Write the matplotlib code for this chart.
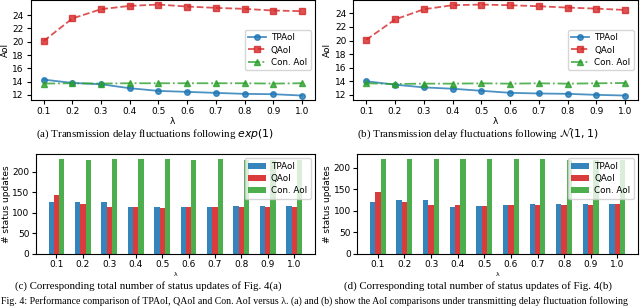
import numpy as np
import matplotlib
matplotlib.use("Agg")
from matplotlib import pyplot as plt

LAMBDAS = ["0.1", "0.2", "0.3", "0.4", "0.5", "0.6", "0.7", "0.8", "0.9", "1.0"]
lam = [0.1, 0.2, 0.3, 0.4, 0.5, 0.6, 0.7, 0.8, 0.9, 1.0]

# (a) exp(1) delay
tp_a = [14.3, 13.8, 13.6, 13.0, 12.6, 12.45, 12.3, 12.15, 12.1, 11.9]
q_a = [20.1, 23.5, 24.9, 25.4, 25.6, 25.3, 25.1, 24.95, 24.7, 24.6]
con_a = [13.7, 13.75, 13.7, 13.75, 13.75, 13.75, 13.75, 13.75, 13.7, 13.75]

# (b) N(1,1) delay
tp_b = [14.0, 13.5, 13.1, 12.9, 12.6, 12.3, 12.2, 12.15, 12.0, 11.9]
q_b = [20.1, 23.1, 24.6, 25.2, 25.3, 25.2, 25.05, 24.85, 24.7, 24.5]
con_b = [13.7, 13.6, 13.65, 13.65, 13.7, 13.65, 13.7, 13.65, 13.7, 13.75]

# (c) number of status updates for (a)
n_tp_c = [125, 127, 125, 113, 113, 115, 115, 116, 116, 116]
n_q_c = [143, 121, 114, 113, 112, 113, 114, 114, 115, 115]
n_con_c = [230, 229, 231, 231, 230, 229, 230, 229, 229, 229]

# (d) number of status updates for (b)
n_tp_d = [120, 125, 125, 109, 112, 113, 115, 115, 115, 116]
n_q_d = [143, 120, 114, 113, 112, 113, 114, 114, 114, 115]
n_con_d = [221, 221, 221, 221, 220, 220, 220, 219, 218, 218]

BLUE = "#1f77b4"
RED = "#d62728"
GREEN = "#2ca02c"

plt.rcParams['font.family'] = ['DejaVu Sans']
fig = plt.figure(figsize=(6.4, 3.07), dpi=100)

TICK_FS = 6.5
SERIF = ['Liberation Serif', 'DejaVu Serif']


def line_panel(ax, tp, q, con):
    ax.plot(lam, tp, color=BLUE, ls='-', marker='o', ms=4, lw=1.3, alpha=0.8, label="TPAoI")
    ax.plot(lam, q, color=RED, ls='--', marker='s', ms=4, lw=1.3, alpha=0.8, label="QAoI")
    ax.plot(lam, con, color=GREEN, ls='-.', marker='^', ms=4.5, lw=1.3, alpha=0.8, label="Con. AoI")
    ax.set_xticks(lam)
    ax.set_xticklabels(LAMBDAS)
    ax.set_yticks([12, 14, 16, 18, 20, 22, 24])
    ax.tick_params(labelsize=TICK_FS, length=3, pad=2)
    ax.set_xlabel("λ", fontsize=TICK_FS, labelpad=1)
    ax.set_ylabel("AoI", fontsize=TICK_FS, labelpad=2)
    ax.legend(loc='center right', fontsize=6.3, handlelength=2.0, borderpad=0.4,
              labelspacing=0.35, handletextpad=0.6)


def bar_panel(ax, tp, q, con):
    x = np.arange(len(LAMBDAS))
    w = 0.2
    ax.bar(x - w, tp, w, color=BLUE, alpha=0.9, label="TPAoI")
    ax.bar(x, q, w, color=RED, alpha=0.9, label="QAoI")
    ax.bar(x + w, con, w, color=GREEN, alpha=0.85, label="Con. AoI")
    ax.set_xticks(x)
    ax.set_xticklabels(LAMBDAS)
    ax.set_yticks([0, 50, 100, 150, 200])
    ax.tick_params(labelsize=TICK_FS, length=3, pad=1.5)
    ax.set_xlabel("λ", fontsize=4.5, labelpad=2)
    ax.set_ylabel("# status updates", fontsize=TICK_FS, labelpad=1)
    ax.legend(loc='upper right', fontsize=6.3, handlelength=2.0, borderpad=0.4,
              labelspacing=0.35, handletextpad=0.6)


ax_a = fig.add_axes([0.048, 0.674, 0.444, 0.326])
ax_b = fig.add_axes([0.552, 0.674, 0.445, 0.326])
ax_c = fig.add_axes([0.056, 0.173, 0.436, 0.325])
ax_d = fig.add_axes([0.558, 0.173, 0.439, 0.325])

line_panel(ax_a, tp_a, q_a, con_a)
line_panel(ax_b, tp_b, q_b, con_b)
bar_panel(ax_c, n_tp_c, n_q_c, n_con_c)
bar_panel(ax_d, n_tp_d, n_q_d, n_con_d)

cap_fs = 7.8
fig.text(155 / 640, 1 - 134 / 307, r"(a) Transmission delay fluctuations following $exp(1)$",
         ha='center', va='center', fontsize=cap_fs, family=SERIF)
fig.text(478 / 640, 1 - 134 / 307, r"(b) Transmission delay fluctuations following $\mathcal{N}(1,1)$",
         ha='center', va='center', fontsize=cap_fs, family=SERIF)
fig.text(148 / 640, 1 - 286 / 307, "(c) Corresponding total number of status updates of Fig. 4(a)",
         ha='center', va='center', fontsize=cap_fs, family=SERIF)
fig.text(478 / 640, 1 - 286 / 307, "(d) Corresponding total number of status updates of Fig. 4(b)",
         ha='center', va='center', fontsize=cap_fs, family=SERIF)
fig.text(0.002, 1 - 301.5 / 307,
         "Fig. 4: Performance comparison of TPAoI, QAoI and Con. AoI versus λ. (a) and (b) show the AoI "
         "comparisons under transmitting delay fluctuation following",
         ha='left', va='center', fontsize=7.1, family=SERIF)

fig.savefig("out.png", dpi=100)
